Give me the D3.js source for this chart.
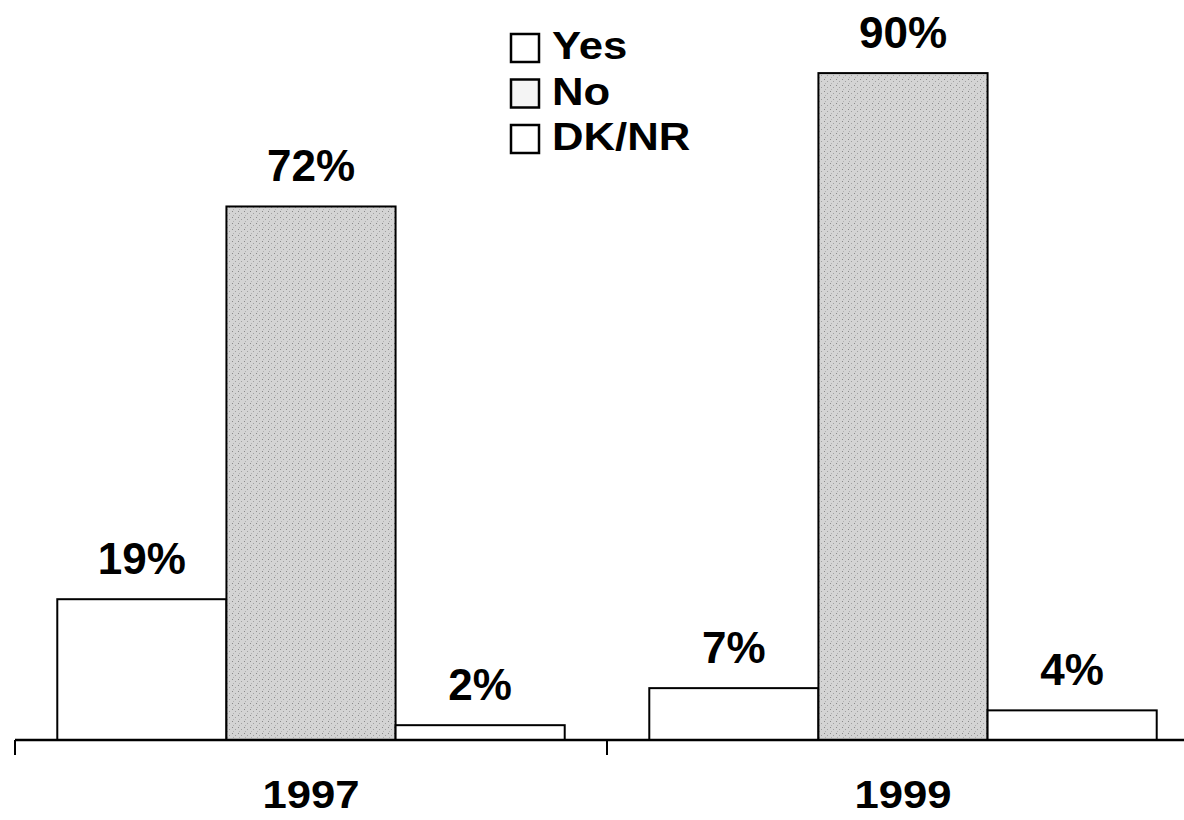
<!DOCTYPE html>
<html><head><meta charset="utf-8">
<script src="https://cdn.jsdelivr.net/npm/d3@7"></script>
<style>body{margin:0;background:#fff}svg{display:block}</style>
</head><body>
<script>
const years = ["1997", "1999"];
const series = ["Yes", "No", "DK/NR"];
const yesValues = [19, 7];
const noValues = [72, 90];
const dkValues = [2, 4];
const valueLabels = [["19%", "72%", "2%"], ["7%", "90%", "4%"]];

const W = 1184, H = 820;
const FONT = "'Liberation Sans', Arial, sans-serif";
const svg = d3.select("body").append("svg").attr("width", W).attr("height", H);
const defs = svg.append("defs");
const pat = defs.append("pattern").attr("id", "speck").attr("patternUnits", "userSpaceOnUse")
  .attr("width", 6).attr("height", 6);
pat.append("rect").attr("width", 6).attr("height", 6).attr("fill", "#d4d4d4");
pat.append("rect").attr("x", 1).attr("y", 1).attr("width", 1).attr("height", 1).attr("fill", "#8a8a8a");
pat.append("rect").attr("x", 4).attr("y", 3).attr("width", 1).attr("height", 1).attr("fill", "#a0a0a0");
pat.append("rect").attr("x", 2).attr("y", 5).attr("width", 1).attr("height", 1).attr("fill", "#b0b0b0");

const fills = {"Yes": "#ffffff", "No": "url(#speck)", "DK/NR": "#ffffff"};

const x0 = d3.scaleBand().domain(years).range([15, 1199]).paddingInner(0).paddingOuter(0);
const x1 = d3.scaleBand().domain(series).range([0, x0.bandwidth()]).paddingInner(0).paddingOuter(0.25);
const y = d3.scaleLinear().domain([0, 100]).range([740, -1]);

const data = years.map((yr, i) => ({
  year: yr,
  vals: [
    {s: "Yes", v: yesValues[i], label: valueLabels[i][0]},
    {s: "No", v: noValues[i], label: valueLabels[i][1]},
    {s: "DK/NR", v: dkValues[i], label: valueLabels[i][2]}
  ]
}));

const g = svg.selectAll("g.grp").data(data).enter().append("g")
  .attr("transform", d => `translate(${x0(d.year)},0)`);

g.selectAll("rect").data(d => d.vals).enter().append("rect")
  .attr("x", d => x1(d.s)).attr("width", x1.bandwidth())
  .attr("y", d => y(d.v)).attr("height", d => y(0) - y(d.v))
  .attr("fill", d => fills[d.s]).attr("stroke", "#000").attr("stroke-width", 2);

g.selectAll("text.val").data(d => d.vals).enter().append("text")
  .attr("class", "val")
  .attr("x", d => x1(d.s) + x1.bandwidth() / 2)
  .attr("y", d => y(d.v) - 25)
  .attr("text-anchor", "middle")
  .attr("font-family", FONT)
  .attr("font-weight", "bold").attr("font-size", 44)
  .text(d => d.label);

// axis
const axis = svg.append("g");
axis.append("line").attr("x1", x0.range()[0]).attr("x2", x0.range()[1])
  .attr("y1", y(0)).attr("y2", y(0)).attr("stroke", "#000").attr("stroke-width", 2.5);
const tickPos = years.map(d => x0(d)).concat([x0.range()[1]]);
axis.selectAll("line.tick").data(tickPos).enter().append("line")
  .attr("x1", d => d).attr("x2", d => d).attr("y1", y(0)).attr("y2", y(0) + 15)
  .attr("stroke", "#000").attr("stroke-width", 2);
axis.selectAll("text").data(years).enter().append("text")
  .attr("transform", d => `translate(${x0(d) + x0.bandwidth() / 2},808) scale(1.15,1)`)
  .attr("text-anchor", "middle")
  .attr("font-family", FONT)
  .attr("font-weight", "bold").attr("font-size", 38)
  .text(d => d);

// legend
const leg = svg.append("g").attr("transform", "translate(510,33)");
const li = leg.selectAll("g").data(series).enter().append("g")
  .attr("transform", (d, i) => `translate(0,${i * 45.5})`);
li.append("rect").attr("x", 1).attr("y", 1).attr("width", 28).attr("height", 28)
  .attr("fill", d => d === "No" ? "#f4f4f4" : "#fff").attr("stroke", "#000").attr("stroke-width", 2.5);
li.append("text").attr("transform", `translate(42,26) scale(1.12,1)`)
  .attr("font-family", FONT)
  .attr("font-weight", "bold").attr("font-size", 39)
  .text(d => d);
</script>
</body></html>
